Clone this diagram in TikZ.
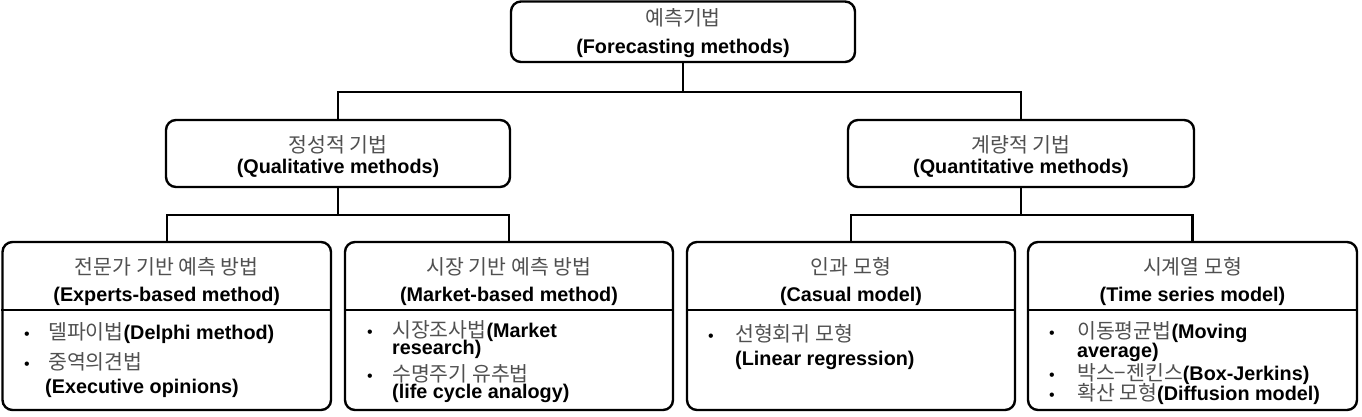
\documentclass[tikz,border=0pt]{standalone}
\usepackage{fontspec}
\setmainfont{Liberation Sans}
\newfontfamily\krfont{Noto Sans CJK KR}
\definecolor{kogray}{HTML}{505050}
\newcommand\KO[1]{{\krfont\mdseries\fontsize{20.5}{22}\selectfont\color{kogray}#1}}
\begin{document}
\begin{tikzpicture}[x=1pt,y=-1pt,
  box/.style={draw, line width=2.4pt, rounded corners=10pt, inner sep=0pt},
  conn/.style={line width=2.4pt},
  divl/.style={line width=2.2pt},
  txt/.style={inner sep=0pt, anchor=base, font=\fontsize{19.8}{22}\selectfont\bfseries},
  ltxt/.style={inner sep=0pt, anchor=base west, font=\fontsize{19.8}{22}\selectfont\bfseries},
  bul/.style={inner sep=0pt, anchor=base, font=\fontsize{16}{20}\selectfont}]
\useasboundingbox (0,0) rectangle (1362,417);
% boxes
\node[box, minimum width=344pt, minimum height=60.5pt] (top) at (683,31.75) {};
\node[box, minimum width=344pt, minimum height=67pt] (qual) at (338,153.5) {};
\node[box, minimum width=346pt, minimum height=67pt] (quant) at (1021,153.5) {};
\node[box, minimum width=328.5pt, minimum height=168pt] (b1) at (166.75,326) {};
\node[box, minimum width=328pt, minimum height=168pt] (b2) at (509,326) {};
\node[box, minimum width=328pt, minimum height=168pt] (b3) at (851,326) {};
\node[box, minimum width=329pt, minimum height=168pt] (b4) at (1192.5,326) {};
% connectors
\coordinate (j1) at (683,92);
\coordinate (j2) at (338,215);
\coordinate (j3) at (1021,215);
\draw[conn] (top.south) -- (j1);
\draw[conn] (qual.north) |- (j1) -| (quant.north);
\draw[conn] (qual.south) -- (j2);
\draw[conn] (b1.north) |- (j2) -| (b2.north);
\draw[conn] (quant.south) -- (j3);
\draw[conn] (b3.north) |- (j3) -| (b4.north);
% dividers
\coordinate (dv) at (0,310);
\draw[divl] (b1.west |- dv) -- (b1.east |- dv);
\draw[divl] (b2.west |- dv) -- (b2.east |- dv);
\draw[divl] (b3.west |- dv) -- (b3.east |- dv);
\draw[divl] (b4.west |- dv) -- (b4.east |- dv);
% titles
\node[txt] (topk) at (683,26) {\KO{예측기법}};
\node[txt] (tope) at (683,54) {(Forecasting methods)};
\node[txt] (qualk) at (338,152) {\KO{정성적 기법}};
\node[txt] (quale) at (338,173.5) {(Qualitative methods)};
\node[txt] (quantk) at (1021,152) {\KO{계량적 기법}};
\node[txt] (quante) at (1021,173.5) {(Quantitative methods)};
\node[txt] (b1k) at (166.75,274) {\KO{전문가 기반 예측 방법}};
\node[txt] (b1e) at (166.75,301) {(Experts-based method)};
\node[txt] (b2k) at (509,274) {\KO{시장 기반 예측 방법}};
\node[txt] (b2e) at (509,301) {(Market-based method)};
\node[txt] (b3k) at (851,274) {\KO{인과 모형}};
\node[txt] (b3e) at (851,301) {(Casual model)};
\node[txt] (b4k) at (1192.5,274) {\KO{시계열 모형}};
\node[txt] (b4e) at (1192.5,301) {(Time series model)};
% box 1 items
\node[bul] (b1u1) at (27,339) {•};
\node[ltxt] (b1l1) at (48,339) {\KO{델파이법}(Delphi method)};
\node[bul] (b1u2) at (27,369) {•};
\node[ltxt] (b1l2) at (48,369) {\KO{중역의견법}};
\node[ltxt] (b1l3) at (45,393) {(Executive opinions)};
% box 2 items
\node[bul] (b2u1) at (370,337) {•};
\node[ltxt] (b2l1) at (392,337) {\KO{시장조사법}(Market};
\node[ltxt] (b2l2) at (392,354) {research)};
\node[bul] (b2u2) at (370,381) {•};
\node[ltxt] (b2l3) at (392,381) {\KO{수명주기 유추법}};
\node[ltxt] (b2l4) at (392,398) {(life cycle analogy)};
% box 3 items
\node[bul] (b3u1) at (711,341) {•};
\node[ltxt] (b3l1) at (735,341) {\KO{선형회귀 모형}};
\node[ltxt] (b3l2) at (735,365) {(Linear regression)};
% box 4 items
\node[bul] (b4u1) at (1052,338) {•};
\node[ltxt] (b4l1) at (1077,338) {\KO{이동평균법}(Moving};
\node[ltxt] (b4l2) at (1077,357) {average)};
\node[bul] (b4u2) at (1052,380) {•};
\node[ltxt] (b4l3) at (1077,380) {\KO{박스−젠킨스}(Box-Jerkins)};
\node[bul] (b4u3) at (1052,400) {•};
\node[ltxt] (b4l4) at (1077,400) {\KO{확산 모형}(Diffusion model)};
\end{tikzpicture}
\end{document}
